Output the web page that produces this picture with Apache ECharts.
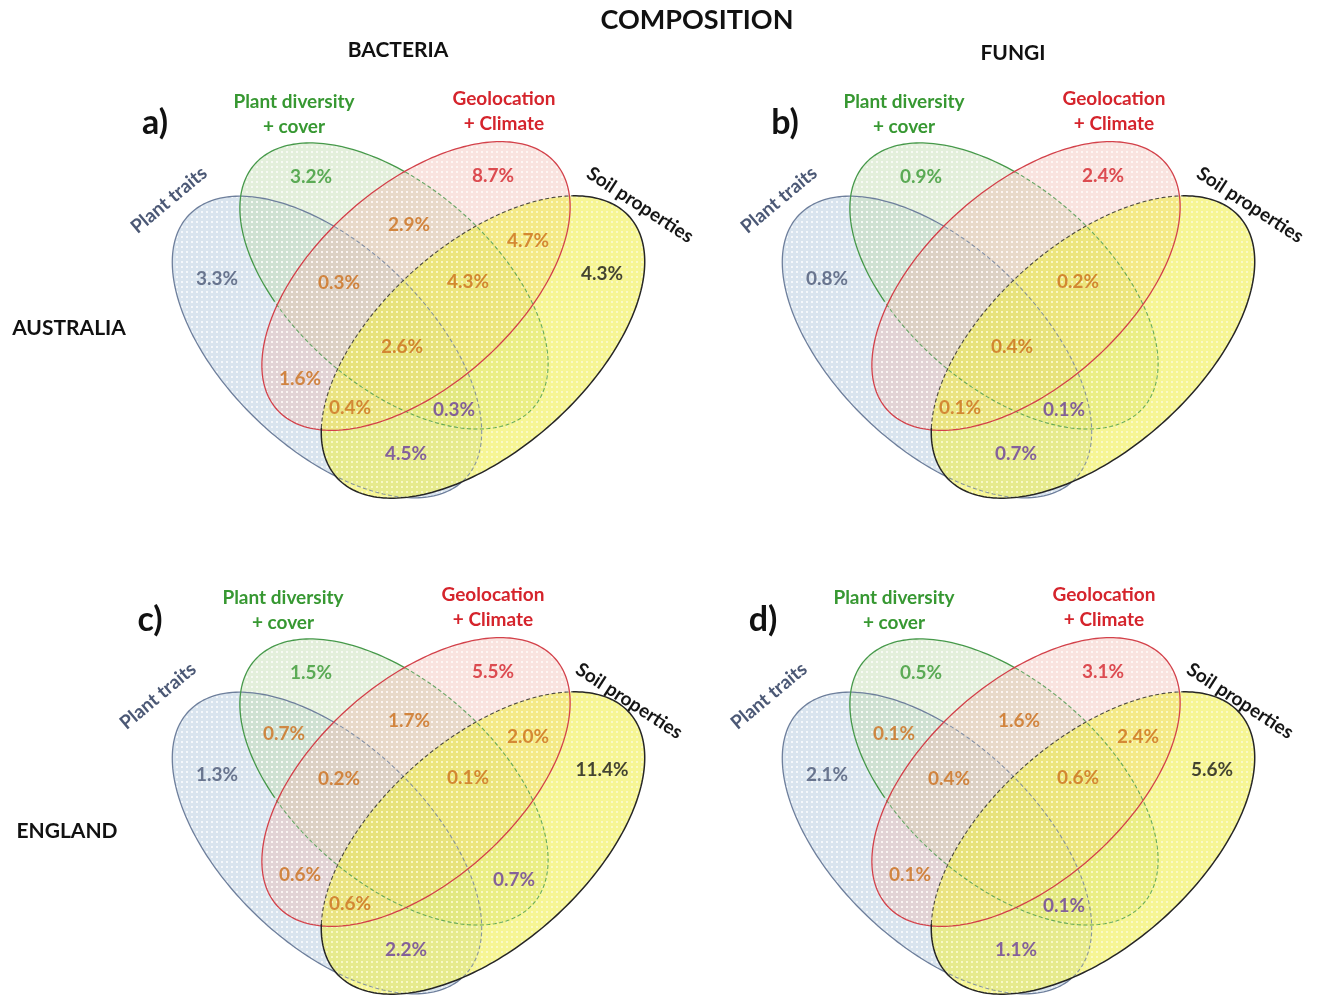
<!DOCTYPE html>
<html>
<head>
<meta charset="utf-8">
<script src="https://cdn.jsdelivr.net/npm/echarts@6/dist/echarts.min.js"></script>
<style>
  html, body { margin: 0; padding: 0; background: #ffffff; }
  #chart { width: 1318px; height: 997px; }
</style>
</head>
<body>
<div id="chart"></div>
<script>
// Venn regions: PT = plant traits, PD = plant diversity + cover,
// GC = geolocation + climate, SP = soil properties
const regions = ['PT', 'PD', 'GC', 'SP',
  'PT+PD', 'PD+GC', 'GC+SP', 'PT+SP', 'PT+GC', 'PD+SP',
  'PT+PD+GC', 'PD+GC+SP', 'PT+GC+SP', 'PT+PD+SP', 'PT+PD+GC+SP'];

// Explained variance (%) per region; null = not shown
const bacteriaAustralia = [3.3, 3.2, 8.7, 4.3, null, 2.9, 4.7, 4.5, 1.6, null, 0.3, 4.3, 0.4, 0.3, 2.6];
const fungiAustralia    = [0.8, 0.9, 2.4, null, null, null, null, 0.7, null, null, null, 0.2, 0.1, 0.1, 0.4];
const bacteriaEngland   = [1.3, 1.5, 5.5, 11.4, 0.7, 1.7, 2.0, 2.2, 0.6, 0.7, 0.2, 0.1, 0.6, null, null];
const fungiEngland      = [2.1, 0.5, 3.1, 5.6, 0.1, 1.6, 2.4, 1.1, 0.1, null, 0.4, 0.6, null, 0.1, null];

const setNames = ['Plant traits', 'Plant diversity\n+ cover', 'Geolocation\n+ Climate', 'Soil properties'];
const columnTitles = ['BACTERIA', 'FUNGI'];
const rowTitles = ['AUSTRALIA', 'ENGLAND'];
const panelLetters = ['a)', 'b)', 'c)', 'd)'];

// ---- layout (panel-local units, 1 unit = 1 px) ----
const FONT = 'Lato, "Open Sans", sans-serif';
const ellipses = [
  { cx: 327, cy: 347, a: 191, b: 101, angle: 43.7 },   // plant traits
  { cx: 394, cy: 286, a: 185, b: 100, angle: 41.1 },   // plant diversity
  { cx: 416, cy: 286, a: 186, b: 100, angle: -41.6 },  // geolocation
  { cx: 483, cy: 347, a: 196, b: 103, angle: -41.6 }   // soil properties
];
const labelPos = {
  'PT': [217, 279], 'PD': [311, 177], 'GC': [493, 176], 'SP': [602, 274],
  'PT+PD': [284, 238], 'PD+GC': [409, 225], 'GC+SP': [528, 241],
  'PT+SP': [406, 454], 'PT+GC': [300, 379], 'PD+SP': [514, 384],
  'PT+PD+GC': [339, 283], 'PD+GC+SP': [468, 282], 'PT+GC+SP': [350, 408],
  'PT+PD+SP': [454, 410], 'PT+PD+GC+SP': [402, 347]
};
const COL = { slate: '#4b5875', green: '#379832', red: '#d5242c', black: '#151515',
              orange: '#cc6f1c', purple: '#6a3d9c' };
const regionColor = {
  'PT': COL.slate, 'PD': COL.green, 'GC': COL.red, 'SP': COL.black,
  'PT+PD': COL.orange, 'PD+GC': COL.orange, 'GC+SP': COL.orange, 'PT+GC': COL.orange,
  'PT+PD+GC': COL.orange, 'PD+GC+SP': COL.orange, 'PT+GC+SP': COL.orange, 'PT+PD+GC+SP': COL.orange,
  'PT+SP': COL.purple, 'PD+SP': COL.purple, 'PT+PD+SP': COL.purple
};

// venn offset (dx, dy) and set-name offset (nx, ny) of each panel
const panels = [
  { values: bacteriaAustralia, dx: 0,   dy: 0,   nx: 0,   ny: 0,   letter: [155, 123] },
  { values: fungiAustralia,    dx: 610, dy: 0,   nx: 610, ny: 0,   letter: [785, 123] },
  { values: bacteriaEngland,   dx: 0,   dy: 496, nx: -11, ny: 496, letter: [150, 620] },
  { values: fungiEngland,      dx: 610, dy: 496, nx: 600, ny: 496, letter: [763, 620] }
];

// dotted fill tiles
function dotTile(bg, dot) {
  const c = document.createElement('canvas');
  c.width = 5; c.height = 5;
  const g = c.getContext('2d');
  g.fillStyle = bg; g.fillRect(0, 0, 5, 5);
  g.fillStyle = dot; g.fillRect(1, 1, 2, 2);
  return c;
}
const fills = [
  { image: dotTile('rgba(186,205,224,0.55)', 'rgba(255,255,255,0.75)'), repeat: 'repeat' },
  { image: dotTile('rgba(196,222,180,0.48)', 'rgba(255,255,255,0.70)'), repeat: 'repeat' },
  { image: dotTile('rgba(240,185,175,0.40)', 'rgba(255,255,255,0.65)'), repeat: 'repeat' },
  { image: dotTile('rgba(240,238,70,0.58)',  'rgba(255,255,240,0.55)'), repeat: 'repeat' }
];
const strokes = ['#6e7f9c', '#46994a', '#d3414a', '#262626'];
// sets whose interior turns an outline dashed
const dashUnder = [[2, 3], [2, 3], [], [1, 2]];

const N = 240;
function ellipseData(e) {
  const phi = e.angle * Math.PI / 180, pts = [];
  for (let i = 0; i < N; i++) {
    const t = i / N * 2 * Math.PI;
    pts.push([
      e.cx + e.a * Math.cos(t) * Math.cos(phi) - e.b * Math.sin(t) * Math.sin(phi),
      e.cy + e.a * Math.cos(t) * Math.sin(phi) + e.b * Math.sin(t) * Math.cos(phi)
    ]);
  }
  return pts;
}
function isInside(e, x, y) {
  const phi = e.angle * Math.PI / 180, dx = x - e.cx, dy = y - e.cy;
  const u = dx * Math.cos(phi) + dy * Math.sin(phi);
  const v = -dx * Math.sin(phi) + dy * Math.cos(phi);
  return (u / e.a) ** 2 + (v / e.b) ** 2 < 1;
}
// split an outline into solid / dashed runs
function outlineRuns(i) {
  const pts = ellipseData(ellipses[i]);
  const cls = pts.map(([x, y]) => dashUnder[i].some(j => isInside(ellipses[j], x, y)));
  let s = 0;
  while (s < N && cls[s] === cls[(s + N - 1) % N]) s++;
  if (s === N) s = 0;
  const runs = [];
  let cur = { dashed: cls[s], pts: [pts[s]] };
  for (let k = 1; k <= N; k++) {
    const idx = (s + k) % N;
    cur.pts.push(pts[idx]);
    if (k < N && cls[idx] !== cur.dashed) {
      runs.push(cur);
      cur = { dashed: cls[idx], pts: [pts[idx]] };
    }
  }
  runs.push(cur);
  return runs;
}

const grids = [], xAxes = [], yAxes = [], series = [], graphics = [];
panels.forEach((p, k) => {
  grids.push({ left: 100 + p.dx, top: 80 + p.dy, width: 580, height: 420 });
  xAxes.push({ gridIndex: k, type: 'value', min: 100, max: 680, show: false });
  yAxes.push({ gridIndex: k, type: 'value', min: 80, max: 500, inverse: true, show: false });

  const ellData = ellipses.map((e, i) => [e.cx, e.cy, i]);
  // translucent dotted fills
  series.push({
    type: 'custom', xAxisIndex: k, yAxisIndex: k, z: 1, silent: true,
    data: ellData,
    renderItem: (params, api) => ({
      type: 'polygon',
      shape: { points: ellipseData(ellipses[params.dataIndex]).map(q => api.coord(q)) },
      style: { fill: fills[params.dataIndex], stroke: null }
    })
  });
  // outlines
  series.push({
    type: 'custom', xAxisIndex: k, yAxisIndex: k, z: 2, silent: true,
    data: ellData,
    renderItem: (params, api) => {
      const i = params.dataIndex;
      return {
        type: 'group',
        children: outlineRuns(i).map(run => ({
          type: 'polyline',
          shape: { points: run.pts.map(q => api.coord(q)) },
          style: {
            fill: null, stroke: strokes[i],
            lineWidth: run.dashed ? 1.1 : (i === 3 ? 1.5 : 1.3),
            lineDash: run.dashed ? [4, 2.5] : null,
            opacity: run.dashed ? 0.8 : 1
          }
        }))
      };
    }
  });
  series.push({
    type: 'scatter', xAxisIndex: k, yAxisIndex: k, z: 3, silent: true,
    symbolSize: 0,
    data: regions.map((r, i) => p.values[i] == null ? null : {
      value: [labelPos[r][0], labelPos[r][1], p.values[i]],
      label: { color: regionColor[r] }
    }).filter(d => d),
    label: {
      show: true, position: 'inside',
      fontFamily: FONT, fontWeight: 'bold', fontSize: 19,
      formatter: q => q.value[2].toFixed(1) + '%'
    }
  });

  // set names
  const ox = p.nx, oy = p.ny;
  graphics.push(
    { type: 'text', x: 169 + ox, y: 200 + oy, rotation: 40 * Math.PI / 180,
      style: { text: setNames[0], fill: COL.slate, font: 'bold 19px ' + FONT, align: 'center', verticalAlign: 'middle' } },
    { type: 'text', x: 294 + ox, y: 114 + oy,
      style: { text: setNames[1], fill: COL.green, font: 'bold 19px ' + FONT, align: 'center', verticalAlign: 'middle', lineHeight: 25 } },
    { type: 'text', x: 504 + ox, y: 111 + oy,
      style: { text: setNames[2], fill: COL.red, font: 'bold 19px ' + FONT, align: 'center', verticalAlign: 'middle', lineHeight: 25 } },
    { type: 'text', x: 640 + ox, y: 205 + oy, rotation: -33 * Math.PI / 180,
      style: { text: setNames[3], fill: COL.black, font: 'bold 19px ' + FONT, align: 'center', verticalAlign: 'middle' } },
    { type: 'text', x: p.letter[0], y: p.letter[1],
      style: { text: panelLetters[k], fill: '#111', font: 'bold 34px ' + FONT, align: 'center', verticalAlign: 'middle' } }
  );
});

graphics.push(
  { type: 'text', x: 697, y: 20, style: { text: 'COMPOSITION', fill: '#111', font: 'bold 27px ' + FONT, align: 'center', verticalAlign: 'middle' } },
  { type: 'text', x: 398, y: 50, style: { text: columnTitles[0], fill: '#111', font: 'bold 21px ' + FONT, align: 'center', verticalAlign: 'middle' } },
  { type: 'text', x: 1013, y: 53, style: { text: columnTitles[1], fill: '#111', font: 'bold 21px ' + FONT, align: 'center', verticalAlign: 'middle' } },
  { type: 'text', x: 69, y: 328, style: { text: rowTitles[0], fill: '#111', font: 'bold 21px ' + FONT, align: 'center', verticalAlign: 'middle' } },
  { type: 'text', x: 67, y: 831, style: { text: rowTitles[1], fill: '#111', font: 'bold 21px ' + FONT, align: 'center', verticalAlign: 'middle' } }
);

const chart = echarts.init(document.getElementById('chart'), null, { renderer: 'canvas' });
chart.setOption({
  animation: false,
  backgroundColor: '#ffffff',
  grid: grids, xAxis: xAxes, yAxis: yAxes,
  series: series,
  graphic: graphics
});
</script>
</body>
</html>
